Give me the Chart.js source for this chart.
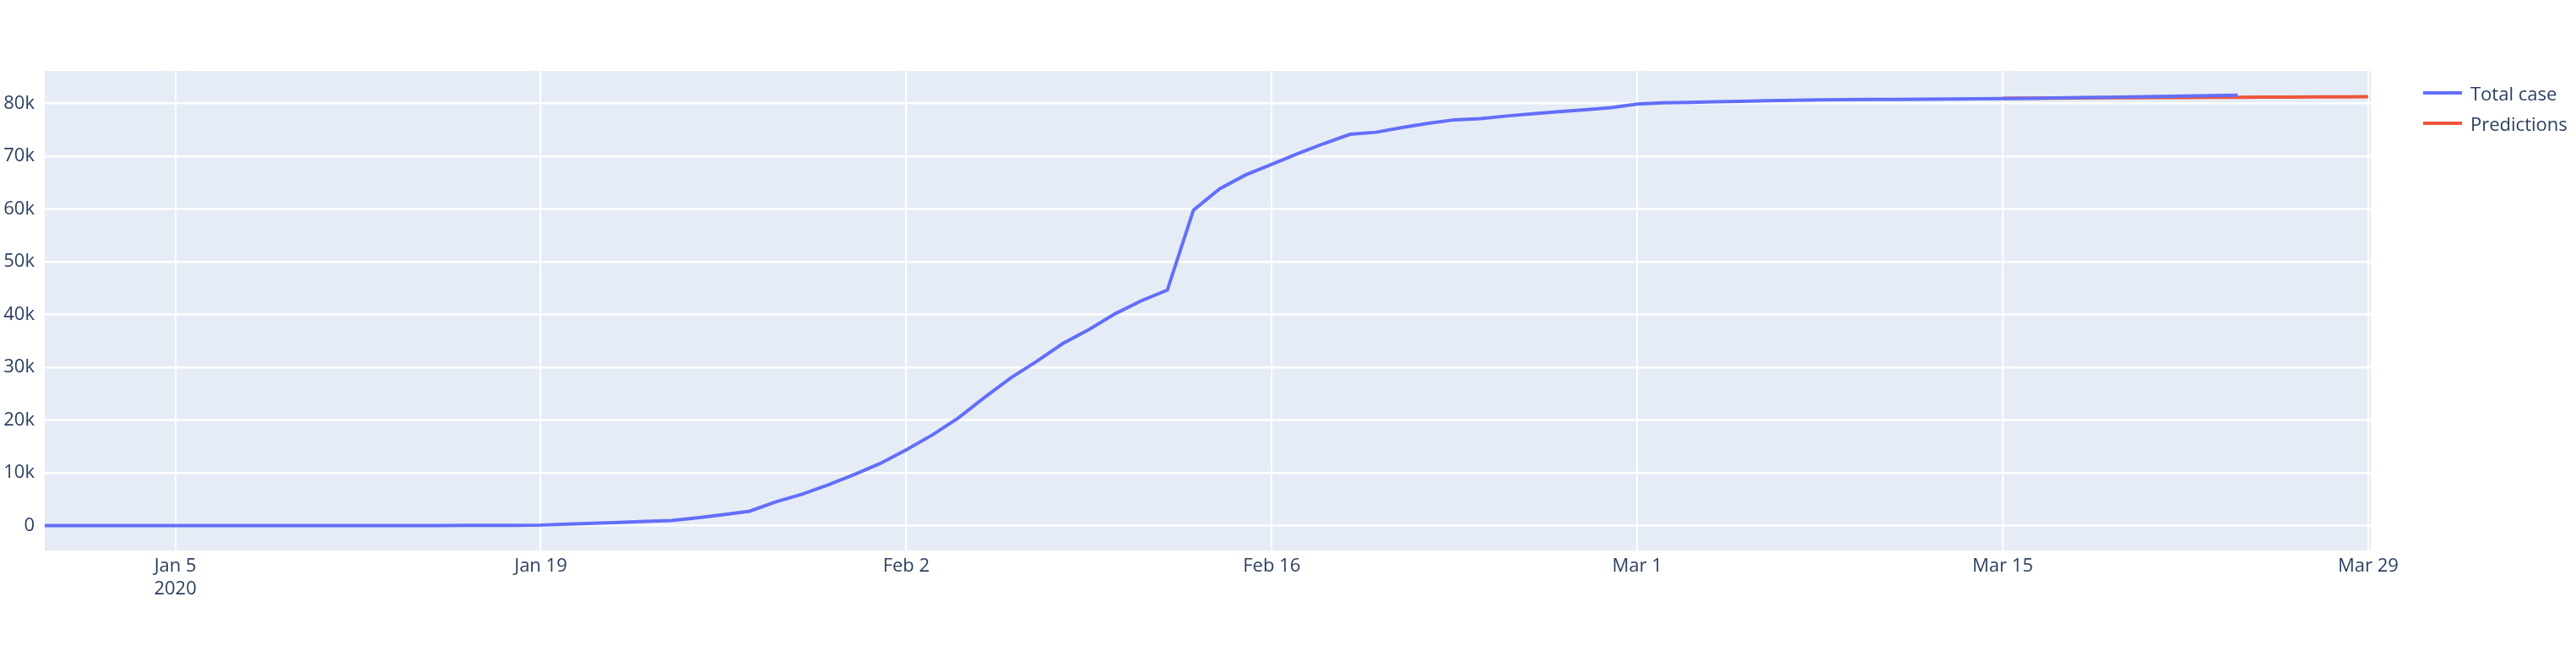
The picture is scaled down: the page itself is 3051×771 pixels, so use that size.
<!DOCTYPE html>
<html><head><meta charset="utf-8">
<script src="https://cdn.jsdelivr.net/npm/chart.js@4"></script>
<style>
html,body{margin:0;padding:0;background:#fff;}
#wrap{position:relative;width:3051px;height:771px;}
#legend{position:absolute;left:2870px;top:92px;font:22px "Open Sans",sans-serif;color:#2a3f5f;}
#legend div{display:flex;align-items:center;height:36px;}
#legend span{display:inline-block;width:46px;height:4px;margin-right:10px;}
</style></head>
<body>
<div id="wrap"><canvas id="c" width="3051" height="771"></canvas>
<div id="legend"><div><span style="background:#636efa"></span>Total case</div><div><span style="background:#ef553b"></span>Predictions</div></div></div>
<script>
// day numbers counted from Jan 1 2020 (Dec 31 = -1)
const firstDay = -1;
const totalCase = [27,27,27,27,27,27,27,27,27,27,41,41,41,41,41,41,45,62,62,121,
  291,470,640,820,1000,1500,2100,2744,4515,5974,7711,9692,
  11791,14380,17205,20438,24324,28018,31161,34546,37198,40171,42638,44653,59804,63851,66492,68500,70548,72436,74185,74576,75465,76288,76936,77150,77658,78064,78497,78824,79251,
  79900,80150,80250,80350,80450,80550,80650,80700,80750,80780,80810,80840,80880,80920,80960,81000,81070,81140,81210,81280,81360,81440,81520,81600];
const predFirstDay = 74;
const predictions = [81000,81025,81050,81075,81100,81120,81140,81160,81180,81200,81220,81245,81270,81295,81320];
const xTickDays = [4,18,32,46,60,74,88];
const xTickLabels = [['Jan 5','2020'],'Jan 19','Feb 2','Feb 16','Mar 1','Mar 15','Mar 29'];
const yTicks = [0,10000,20000,30000,40000,50000,60000,70000,80000];

const font = {family:'"Open Sans", sans-serif', size:22};
const bgPlugin = {id:'bg', beforeDraw(ch){
  const a = ch.chartArea, c = ch.ctx;
  c.save(); c.fillStyle = '#e5ecf6'; c.fillRect(a.left,a.top,a.right-a.left,a.bottom-a.top); c.restore();
}};

new Chart(document.getElementById('c'), {
  type:'line',
  data:{datasets:[
    {label:'Total case', data: totalCase.map((v,i)=>({x:firstDay+i,y:v})), borderColor:'#636efa', borderWidth:4, pointRadius:0, tension:0},
    {label:'Predictions', data: predictions.map((v,i)=>({x:predFirstDay+i,y:v})), borderColor:'#ef553b', borderWidth:4, pointRadius:0, tension:0}
  ]},
  plugins:[bgPlugin],
  options:{
    responsive:false, animation:false,
    layout:{padding:{top:84,right:243,left:0,bottom:0}},
    plugins:{legend:{display:false}, tooltip:{enabled:false}},
    scales:{
      x:{type:'linear', min:-1, max:88.1,
        afterBuildTicks(s){ s.ticks = xTickDays.map(v=>({value:v})); },
        afterFit(s){ s.height = 119; },
        ticks:{color:'#2a3f5f', font, padding:6, maxRotation:0, autoSkip:false,
          callback:(v)=>xTickLabels[xTickDays.indexOf(v)]},
        grid:{color:'#fff', lineWidth:2, drawTicks:false}, border:{display:false}},
      y:{min:-4700, max:86200,
        afterBuildTicks(s){ s.ticks = yTicks.map(v=>({value:v})); },
        afterFit(s){ s.width = 53; },
        ticks:{color:'#2a3f5f', font, padding:12, callback:v=>v===0?'0':(v/1000)+'k'},
        grid:{color:'#fff', lineWidth:2.5, drawTicks:false}, border:{display:false}}
    }
  }
});
</script>
</body></html>
